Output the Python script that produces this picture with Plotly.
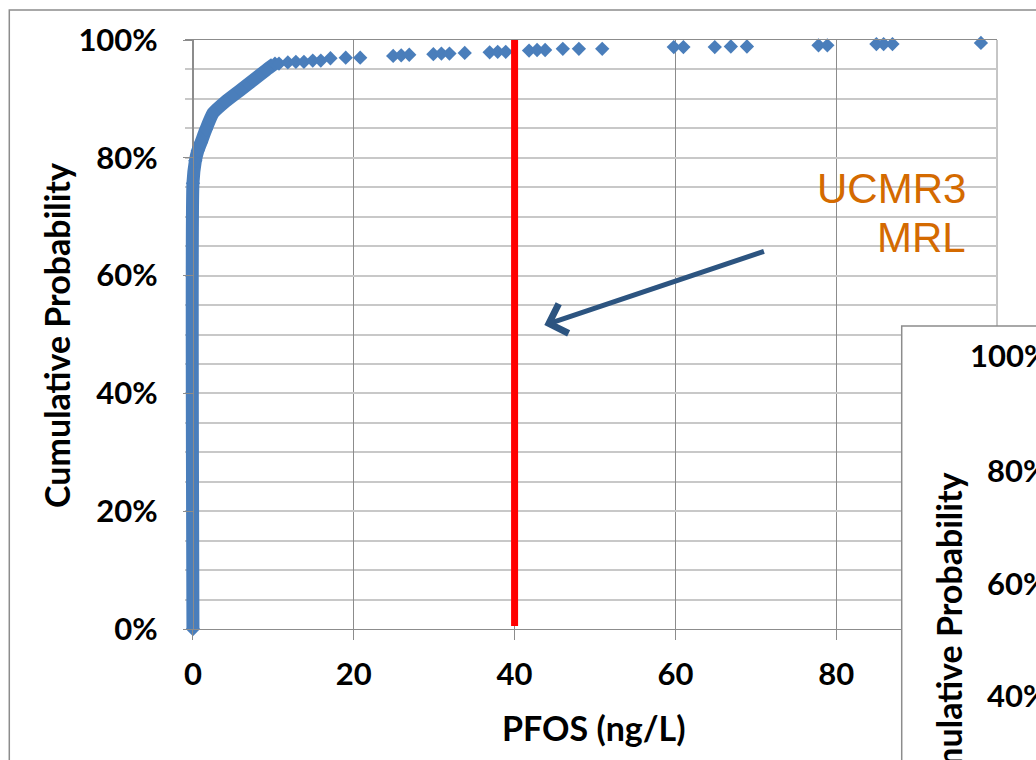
import plotly.graph_objects as go

# ---- data ----
# dense part of the empirical CDF (non-detects at 0, then the steep rise)
curve_pfos = [0.0, 0.0, 0.3, 0.6, 1.0, 1.6, 2.5, 4.0, 5.9, 7.5, 9.1, 10.2]
curve_prob = [0.0, 0.757, 0.795, 0.812, 0.826, 0.848, 0.876, 0.895, 0.915, 0.932, 0.949, 0.960]

# sparse upper tail (individual samples)
tail_pfos = [10.7, 11.8, 12.8, 13.8, 14.9, 15.9, 17.1, 19.0, 20.8, 24.9, 25.9, 26.9,
             29.9, 30.9, 31.9, 33.8, 36.9, 37.9, 38.9, 41.8, 42.8, 43.8, 46.0, 48.0,
             50.9, 59.8, 61.0, 64.9, 66.9, 68.9, 77.8, 78.9, 85.0, 85.9, 87.0, 98.0]
tail_prob = [0.960, 0.962, 0.963, 0.963, 0.965, 0.965, 0.969, 0.970, 0.970, 0.973, 0.974, 0.975,
             0.976, 0.977, 0.977, 0.978, 0.979, 0.980, 0.980, 0.982, 0.983, 0.983, 0.985, 0.985,
             0.985, 0.988, 0.988, 0.988, 0.989, 0.989, 0.991, 0.991, 0.993, 0.993, 0.993, 0.995]

mrl_value = 40          # UCMR3 minimum reporting level (ng/L)
mrl_prob = [0.005, 1.0]

x_ticks = [0, 20, 40, 60, 80, 100]
y_ticks = [0, 0.2, 0.4, 0.6, 0.8, 1.0]
inset_ticks = ["100%", "80%", "60%", "40%"]

BLUE = "#4A7EBB"
GRID_DARK = "#8C8C8C"
GRID_LIGHT = "#C8C8C8"
FONT = "Lato"
TICK_SIZE = 31
TITLE_SIZE = 34

W, H = 1036, 760
# the plot area starts a few pixels left of x=0 so the thick band at x=0 is not clipped
L, R, T, B = 185, 33, 40, 131
PW, PH = W - L - R, H - T - B
X_MIN = -0.99
AXIS_POS = (193 - L) / PW


def px(xp):
    return (xp - L) / PW


def py(yp):
    return (H - B - yp) / PH


fig = go.Figure()

fig.add_trace(go.Scatter(
    x=curve_pfos, y=curve_prob, mode="lines+markers",
    line=dict(color=BLUE, width=13, simplify=False, shape="spline", smoothing=0.5),
    marker=dict(symbol="diamond", size=11, color=BLUE),
    cliponaxis=False, showlegend=False, hoverinfo="skip"))

fig.add_trace(go.Scatter(
    x=tail_pfos, y=tail_prob, mode="markers",
    marker=dict(symbol="diamond", size=11, color=BLUE),
    cliponaxis=False, showlegend=False))

fig.add_trace(go.Scatter(
    x=[mrl_value, mrl_value], y=mrl_prob, mode="lines",
    line=dict(color="#FF0000", width=7),
    cliponaxis=False, showlegend=False, hoverinfo="skip"))

fig.update_layout(
    width=W, height=H,
    margin=dict(l=L, r=R, t=T, b=B),
    paper_bgcolor="white", plot_bgcolor="white",
    font=dict(family=FONT, color="black"),
    xaxis=dict(range=[X_MIN, 100], tickvals=x_ticks, ticks="outside", ticklen=10,
               tickcolor=GRID_DARK, showgrid=True, gridcolor=GRID_DARK, gridwidth=1,
               showline=True, linecolor=GRID_DARK, mirror=True, zeroline=False,
               tickfont=dict(family=FONT, size=TICK_SIZE, weight="bold"), ticklabelstandoff=8),
    yaxis=dict(range=[0, 1], tickvals=y_ticks, tickformat=".0%", ticks="outside", ticklen=10,
               anchor="free", position=AXIS_POS,
               tickcolor=GRID_DARK, showgrid=True, gridcolor=GRID_LIGHT, gridwidth=1.5,
               minor=dict(dtick=0.05, tick0=0, showgrid=True, gridcolor=GRID_LIGHT, gridwidth=1.5),
               showline=True, linecolor=GRID_DARK, zeroline=False,
               tickfont=dict(family=FONT, size=TICK_SIZE, weight="bold"), ticklabelstandoff=19),
)

shapes = [
    # outer slide frame
    dict(type="rect", xref="paper", yref="paper", x0=px(8), x1=px(1200), y0=py(1000), y1=py(10),
         line=dict(color=GRID_DARK, width=1.5), fillcolor="rgba(0,0,0,0)", layer="below"),
    # hide the gridlines left of the y axis (between grid and data)
    dict(type="rect", xref="x", yref="paper", x0=X_MIN, x1=0, y0=0, y1=1,
         line=dict(width=0), fillcolor="white", layer="between"),
    # right border of the plot area
    dict(type="line", xref="paper", yref="paper", x0=1, x1=1, y0=0, y1=1,
         line=dict(color=GRID_DARK, width=1), layer="below"),
    # overlapping second chart (inset)
    dict(type="rect", xref="paper", yref="paper", x0=px(907), x1=px(1200), y0=py(1000), y1=py(326),
         line=dict(color=GRID_DARK, width=1.5), fillcolor="white", layer="above"),
]
fig.update_layout(shapes=shapes)

ann = [
    dict(text="Cumulative Probability", xref="paper", yref="paper", x=px(55), y=py(335),
         xanchor="center", yanchor="middle", textangle=-90, showarrow=False,
         font=dict(family=FONT, size=TITLE_SIZE, weight="bold")),
    dict(text="PFOS (ng/L)", xref="paper", yref="paper", x=px(597), y=py(727),
         xanchor="center", yanchor="middle", showarrow=False,
         font=dict(family=FONT, size=TITLE_SIZE, weight="bold")),
    dict(text="UCMR3", xref="paper", yref="paper", x=px(974), y=py(188), xanchor="right",
         yanchor="middle", showarrow=False,
         font=dict(family="Liberation Sans", size=42, color="#D46A00")),
    dict(text="MRL", xref="paper", yref="paper", x=px(974), y=py(238), xanchor="right",
         yanchor="middle", showarrow=False,
         font=dict(family="Liberation Sans", size=42, color="#D46A00")),
    dict(text="", x=43.7, y=0.516, ax=71.2, ay=0.642, axref="x", ayref="y",
         showarrow=True, arrowhead=4, arrowsize=1.2, arrowwidth=5, arrowcolor="#2C5480"),
    # inset chart texts
    dict(text="Cumulative Probability", xref="paper", yref="paper", x=px(954), y=py(645),
         xanchor="center", yanchor="middle", textangle=-90, showarrow=False,
         font=dict(family=FONT, size=TITLE_SIZE, weight="bold")),
]
inset_y = [355, 470, 583, 695]
inset_x = [974, 991, 991, 991]
for t, xx, yy in zip(inset_ticks, inset_x, inset_y):
    ann.append(dict(text=t, xref="paper", yref="paper", x=px(xx), y=py(yy), xanchor="left",
                    yanchor="middle", showarrow=False,
                    font=dict(family=FONT, size=TICK_SIZE, weight="bold")))
fig.update_layout(annotations=ann)

fig.write_html("out.html")
